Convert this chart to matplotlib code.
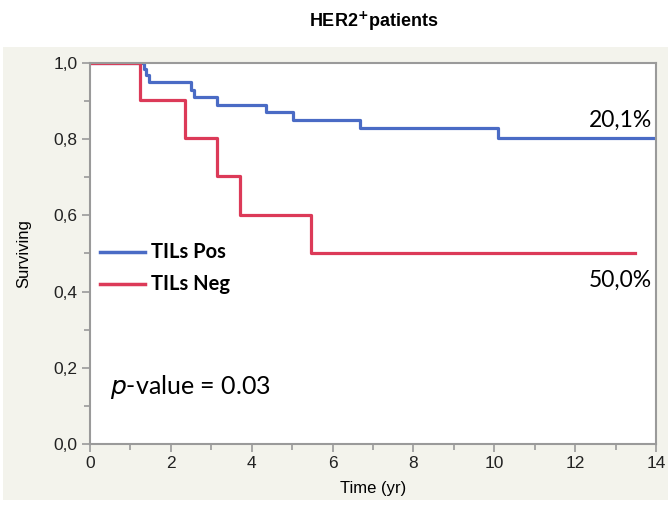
import matplotlib.pyplot as plt
from matplotlib.patches import Rectangle
from matplotlib.ticker import MultipleLocator, FuncFormatter

# Kaplan-Meier step data
pos_time = [0.0, 1.33, 1.38, 1.46, 1.54, 2.50, 2.57, 3.13, 4.35, 5.01, 6.67, 10.10, 13.92]
pos_surv = [1.0, 0.984, 0.968, 0.949, 0.949, 0.929, 0.910, 0.891, 0.872, 0.850, 0.829, 0.802, 0.802]
neg_time = [0.0, 1.23, 2.34, 3.14, 3.70, 5.47, 13.48]
neg_surv = [1.0, 0.903, 0.802, 0.703, 0.601, 0.501, 0.501]

series_labels = ["TILs Pos", "TILs Neg"]
end_labels = ["20,1%", "50,0%"]
title = "HER2$^{\\mathbf{+}}$patients"
pvalue_text = "$p$-value = 0.03"

BLUE = "#4a6bc5"
RED = "#dc3a58"
GREY = "#9a9a9a"

fig = plt.figure(figsize=(6.68, 5.05), dpi=100)
fig.patches.append(Rectangle((3 / 668, 5 / 505), 665 / 668, 453 / 505,
                             transform=fig.transFigure, facecolor="#f3f3ec",
                             edgecolor="none", zorder=-10))

ax = fig.add_axes([90 / 668, 1 - 444 / 505, 566 / 668, 381 / 505])
ax.set_facecolor("white")

ax.step(pos_time, pos_surv, where="post", color=BLUE, lw=2.3)
ax.step(neg_time, neg_surv, where="post", color=RED, lw=2.3)

ax.set_xlim(0, 14)
ax.set_ylim(0, 1.0)
ax.xaxis.set_major_locator(MultipleLocator(2))
ax.xaxis.set_minor_locator(MultipleLocator(1))
ax.yaxis.set_major_locator(MultipleLocator(0.2))
ax.yaxis.set_minor_locator(MultipleLocator(0.1))
ax.yaxis.set_major_formatter(FuncFormatter(lambda v, _: f"{v:.1f}".replace(".", ",")))

for s in ax.spines.values():
    s.set_color(GREY)
    s.set_linewidth(1.5)
ax.tick_params(which="both", direction="out", color=GREY, width=1.2,
               labelsize=12.5, labelcolor="#222222", pad=3, length=6)
ax.tick_params(which="minor", length=4)

tick_font = "Liberation Sans"
for lab in ax.get_xticklabels() + ax.get_yticklabels():
    lab.set_fontfamily(tick_font)

ax.set_xlabel("Time (yr)", fontsize=12, family=tick_font, labelpad=7)
ax.set_ylabel("Surviving", fontsize=12, family=tick_font, labelpad=16)

fig.text(374 / 668, 1 - 21 / 505, title, ha="center", va="center",
         fontsize=13, fontweight="bold", family=tick_font)

# legend drawn by hand to match the placement in the reference
legend_y = [0.503, 0.421]
for y, c, lab in zip(legend_y, [BLUE, RED], series_labels):
    ax.plot([0.25, 1.35], [y, y], color=c, lw=2.5)
    ax.text(1.5, y, lab, fontsize=14.5, fontweight="bold", family="Lato",
            va="center", ha="left")

ax.text(13.9, 0.85, end_labels[0], fontsize=16.5, family="Lato", ha="right", va="center")
ax.text(13.9, 0.43, end_labels[1], fontsize=16.5, family="Lato", ha="right", va="center")
ax.text(0.5, 0.15, pvalue_text, fontsize=18, family="Lato", ha="left", va="center")

fig.savefig("out.png", dpi=100)
